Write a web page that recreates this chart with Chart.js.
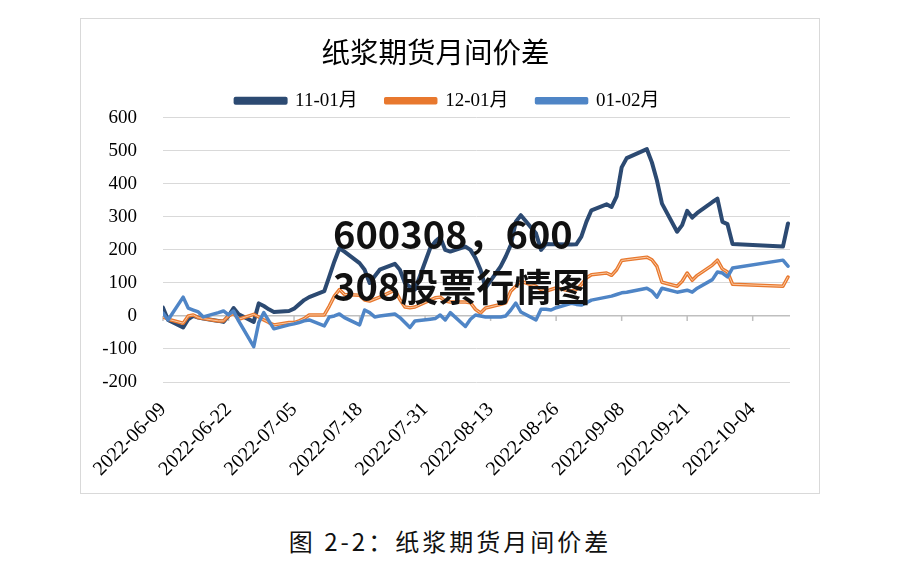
<!DOCTYPE html>
<html>
<head>
<meta charset="utf-8">
<script src="https://cdn.jsdelivr.net/npm/chart.js@4.4.1/dist/chart.umd.min.js"></script>
<style>
  html, body { margin: 0; padding: 0; background: #fff; }
  body { width: 916px; height: 579px; position: relative; overflow: hidden; }
  #box { position: absolute; left: 80px; top: 18px; width: 738px; height: 474px; border: 1px solid #d9d9d9; }
  #stamp { position: absolute; left: 333px; top: 207px; font: bold 38px "Noto Sans CJK SC", sans-serif; line-height: 52px; color: #111; white-space: nowrap; }
  #caption { position: absolute; left: 0; width: 900px; top: 523px; text-align: center; font: 24px "Noto Sans CJK SC", sans-serif; letter-spacing: 3px; color: #111; }
</style>
</head>
<body>
<div id="box"><canvas id="c" width="738" height="474"></canvas></div>
<div id="stamp">600308，600<br>308股票行情图</div>
<div id="caption">图 2-2：纸浆期货月间价差</div>
<script>
/* trading days */
const dates = [
  "2022-06-09","2022-06-10","2022-06-13","2022-06-14","2022-06-15","2022-06-16","2022-06-17","2022-06-20","2022-06-21","2022-06-22","2022-06-23","2022-06-24","2022-06-27","2022-06-28","2022-06-29","2022-06-30",
  "2022-07-01","2022-07-04","2022-07-05","2022-07-06","2022-07-07","2022-07-08","2022-07-11","2022-07-12","2022-07-13","2022-07-14","2022-07-15","2022-07-18","2022-07-19","2022-07-20","2022-07-21","2022-07-22","2022-07-25","2022-07-26","2022-07-27","2022-07-28","2022-07-29",
  "2022-08-01","2022-08-02","2022-08-03","2022-08-04","2022-08-05","2022-08-08","2022-08-09","2022-08-10","2022-08-11","2022-08-12","2022-08-15","2022-08-16","2022-08-17","2022-08-18","2022-08-19","2022-08-22","2022-08-23","2022-08-24","2022-08-25","2022-08-26","2022-08-29","2022-08-30","2022-08-31",
  "2022-09-01","2022-09-02","2022-09-05","2022-09-06","2022-09-07","2022-09-08","2022-09-09","2022-09-13","2022-09-14","2022-09-15","2022-09-16","2022-09-19","2022-09-20","2022-09-21","2022-09-22","2022-09-23","2022-09-26","2022-09-27","2022-09-28","2022-09-29","2022-09-30",
  "2022-10-10","2022-10-11"
];
const s1101 = [
  25,-12,-35,-10,0,-5,-8,-15,-18,0,24,5,-18,38,30,20,
  12,15,22,35,48,57,75,120,165,205,195,160,140,100,120,140,158,140,100,88,80,
  205,225,238,200,195,210,200,175,140,85,150,180,215,285,305,250,200,218,217,217,216,217,240,
  285,320,338,330,362,450,478,505,465,410,340,255,275,318,298,312,345,355,285,278,218,
  210,280
];
const s1201 = [
  -3,-10,-22,0,3,-5,-8,-15,-15,0,8,-10,5,-3,-12,-20,
  -27,-20,-20,-15,-8,3,3,30,60,80,65,63,48,45,51,57,78,50,27,25,27,
  48,55,57,45,42,42,40,20,9,24,35,40,75,90,105,90,80,75,80,85,75,80,95,
  115,125,130,123,140,168,170,178,170,150,102,90,105,130,108,123,154,169,142,133,96,
  90,118
];
const s0102 = [
  9,-12,57,24,18,12,-3,10,15,3,15,-15,-93,-20,10,-15,
  -39,-27,-24,-20,-15,-12,-30,-3,0,6,-5,-27,18,10,-3,0,6,-5,-20,-35,-15,
  -10,-8,3,-12,10,-32,-10,3,0,-3,-3,0,18,39,12,-12,20,20,18,25,38,35,33,
  40,48,57,60,65,70,72,84,75,57,84,72,75,78,72,84,110,133,130,118,145,
  169,151
];
const seriesNames = ["11-01月", "12-01月", "01-02月"];
const colors = ["#2c4a72", "#e8782e", "#4f85c6"];
const yTicks = [-200, -100, 0, 100, 200, 300, 400, 500, 600];

const DAY = 86400000;
const t0 = Date.parse(dates[0]);
const dayOf = d => Math.round((Date.parse(d) - t0) / DAY);
const fmt = n => new Date(t0 + n * DAY).toISOString().slice(0, 10);
const pts = arr => arr.map((v, i) => ({ x: dayOf(dates[i]), y: v }));

const serif = "'Liberation Serif', 'Times New Roman', 'Noto Sans CJK SC', serif";

/* small tick marks on the zero line */
const zeroTicks = {
  id: "zeroTicks",
  beforeDatasetsDraw(chart) {
    const { ctx, scales: { x, y } } = chart;
    const y0 = y.getPixelForValue(0);
    ctx.save();
    ctx.strokeStyle = "#bfbfbf";
    ctx.lineWidth = 1.5;
    x.ticks.forEach(t => {
      const px = x.getPixelForValue(t.value);
      ctx.beginPath(); ctx.moveTo(px, y0); ctx.lineTo(px, y0 + 5); ctx.stroke();
    });
    ctx.restore();
  }
};

/* light core on the orange line */
const glow = {
  id: "glow",
  afterDatasetDraw(chart, args) {
    if (args.index !== 1) return;
    const ctx = chart.ctx;
    ctx.save();
    ctx.beginPath();
    args.meta.data.forEach((p, i) => i ? ctx.lineTo(p.x, p.y) : ctx.moveTo(p.x, p.y));
    ctx.strokeStyle = "rgba(250,205,170,0.95)";
    ctx.lineWidth = 1;
    ctx.lineJoin = "round";
    ctx.stroke();
    ctx.restore();
  }
};

/* tighter legend box, nudged to sit like the original */
const legendBox = {
  id: "legendBox",
  afterInit(chart) {
    const lg = chart.legend;
    const fit = lg.fit;
    lg.fit = function () { fit.call(this); this.height = 48.6; };
  },
  afterLayout(chart) {
    const lg = chart.legend;
    lg.left += 12; lg.right += 12;
    lg.top -= 6; lg.bottom -= 6;
  }
};

const mk = (i, data, w, order) => ({
  label: seriesNames[i], data: pts(data),
  borderColor: colors[i], backgroundColor: colors[i],
  borderWidth: w, pointRadius: 0, tension: 0,
  borderJoinStyle: "round", borderCapStyle: "round", order
});

new Chart(document.getElementById("c"), {
  type: "line",
  data: { datasets: [mk(0, s1101, 4, 3), mk(1, s1201, 3.5, 2), mk(2, s0102, 3.5, 1)] },
  plugins: [zeroTicks, glow, legendBox],
  options: {
    responsive: false, animation: false,
    layout: { padding: { left: 0, right: 29, top: 0, bottom: 0 } },
    plugins: {
      title: {
        display: true, text: "纸浆期货月间价差", color: "#000",
        font: { family: "'Noto Sans CJK SC', sans-serif", size: 28.5, weight: "normal" },
        padding: { top: 16, bottom: 0 }
      },
      legend: {
        display: true,
        labels: {
          color: "#000", boxWidth: 50, boxHeight: 4, padding: 28,
          font: { family: serif, size: 19 },
          sort: (a, b) => a.datasetIndex - b.datasetIndex
        }
      },
      tooltip: { enabled: false }
    },
    scales: {
      x: {
        type: "linear", min: 0, max: 124.4,
        grid: { display: false }, border: { display: false },
        ticks: {
          stepSize: 13, includeBounds: false, autoSkip: false,
          maxRotation: 45, minRotation: 45, padding: 8,
          color: "#000", font: { family: serif, size: 20 },
          callback: v => fmt(v)
        },
        afterFit: s => { s.height = 111; }
      },
      y: {
        min: -200, max: 600,
        afterBuildTicks: s => { s.ticks = yTicks.map(v => ({ value: v })); },
        grid: {
          drawTicks: false,
          color: c => c.tick && c.tick.value === 0 ? "#bfbfbf" : "#d9d9d9",
          lineWidth: c => c.tick && c.tick.value === 0 ? 1.5 : 1
        },
        border: { display: false },
        ticks: { padding: 26, color: "#000", font: { family: serif, size: 19 } },
        afterFit: s => { s.width = 82; }
      }
    }
  }
});
</script>
</body>
</html>
